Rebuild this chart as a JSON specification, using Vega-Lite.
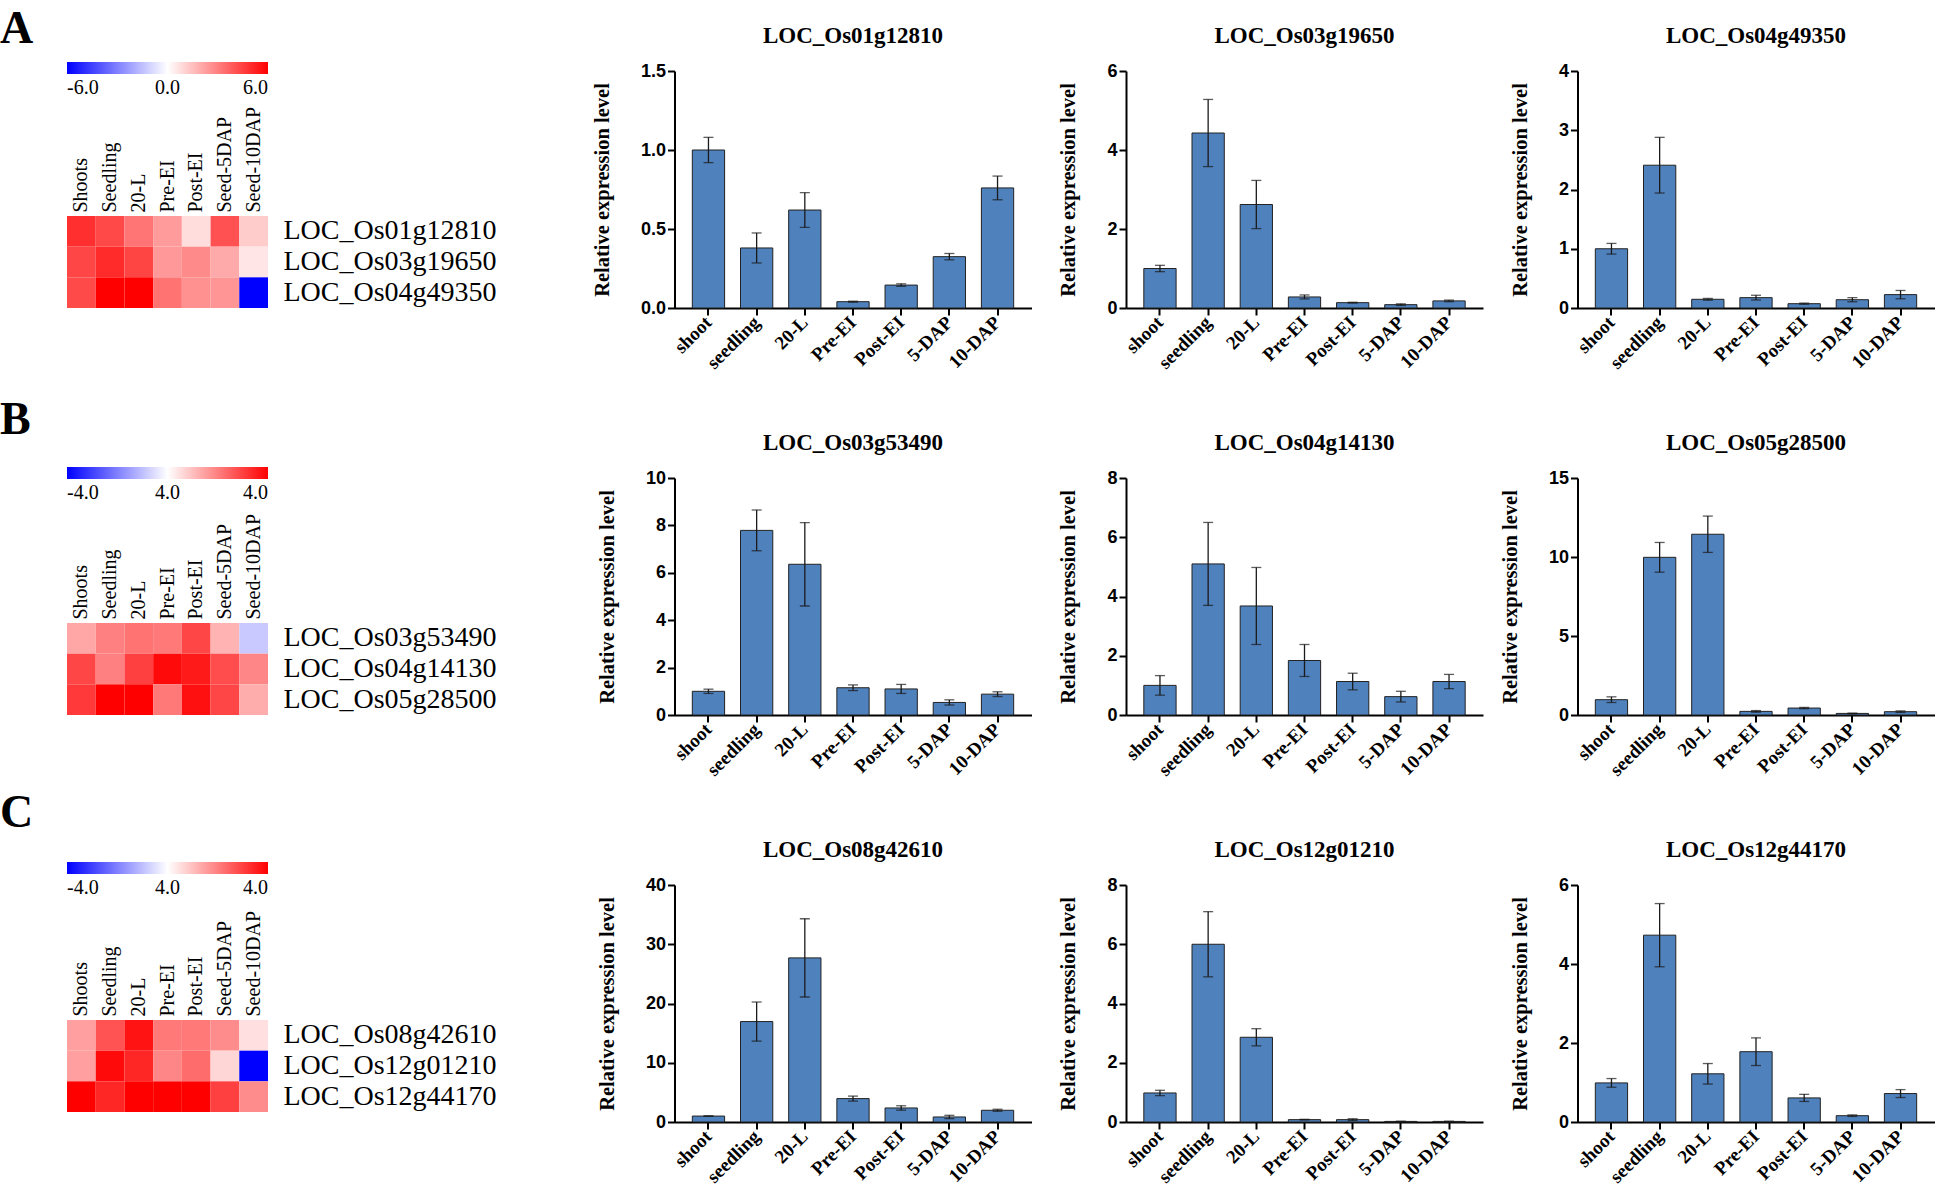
{
"$schema": "https://vega.github.io/schema/vega-lite/v6.json",
"background": "white",
"padding": {"top": 6, "left": 0, "right": 0, "bottom": 0},
"config": {"view": {"stroke": null}, "axis": {"grid": false}},
"datasets": {
"heat": [
{"panel":"A","gene":"LOC_Os01g12810","tissue":"Shoots","value":4.9},
{"panel":"A","gene":"LOC_Os01g12810","tissue":"Seedling","value":4.3},
{"panel":"A","gene":"LOC_Os01g12810","tissue":"20-L","value":3.25},
{"panel":"A","gene":"LOC_Os01g12810","tissue":"Pre-EI","value":2.35},
{"panel":"A","gene":"LOC_Os01g12810","tissue":"Post-EI","value":0.8},
{"panel":"A","gene":"LOC_Os01g12810","tissue":"Seed-5DAP","value":4.1},
{"panel":"A","gene":"LOC_Os01g12810","tissue":"Seed-10DAP","value":1.2},
{"panel":"A","gene":"LOC_Os03g19650","tissue":"Shoots","value":4.35},
{"panel":"A","gene":"LOC_Os03g19650","tissue":"Seedling","value":5.0},
{"panel":"A","gene":"LOC_Os03g19650","tissue":"20-L","value":4.4},
{"panel":"A","gene":"LOC_Os03g19650","tissue":"Pre-EI","value":2.4},
{"panel":"A","gene":"LOC_Os03g19650","tissue":"Post-EI","value":2.75},
{"panel":"A","gene":"LOC_Os03g19650","tissue":"Seed-5DAP","value":2.0},
{"panel":"A","gene":"LOC_Os03g19650","tissue":"Seed-10DAP","value":0.6},
{"panel":"A","gene":"LOC_Os04g49350","tissue":"Shoots","value":4.25},
{"panel":"A","gene":"LOC_Os04g49350","tissue":"Seedling","value":6},
{"panel":"A","gene":"LOC_Os04g49350","tissue":"20-L","value":6},
{"panel":"A","gene":"LOC_Os04g49350","tissue":"Pre-EI","value":3.3},
{"panel":"A","gene":"LOC_Os04g49350","tissue":"Post-EI","value":2.6},
{"panel":"A","gene":"LOC_Os04g49350","tissue":"Seed-5DAP","value":2.5},
{"panel":"A","gene":"LOC_Os04g49350","tissue":"Seed-10DAP","value":-6},
{"panel":"B","gene":"LOC_Os03g53490","tissue":"Shoots","value":1.4},
{"panel":"B","gene":"LOC_Os03g53490","tissue":"Seedling","value":2.0},
{"panel":"B","gene":"LOC_Os03g53490","tissue":"20-L","value":2.2},
{"panel":"B","gene":"LOC_Os03g53490","tissue":"Pre-EI","value":2.1},
{"panel":"B","gene":"LOC_Os03g53490","tissue":"Post-EI","value":2.9},
{"panel":"B","gene":"LOC_Os03g53490","tissue":"Seed-5DAP","value":1.2},
{"panel":"B","gene":"LOC_Os03g53490","tissue":"Seed-10DAP","value":-0.85},
{"panel":"B","gene":"LOC_Os04g14130","tissue":"Shoots","value":2.9},
{"panel":"B","gene":"LOC_Os04g14130","tissue":"Seedling","value":2.0},
{"panel":"B","gene":"LOC_Os04g14130","tissue":"20-L","value":3.0},
{"panel":"B","gene":"LOC_Os04g14130","tissue":"Pre-EI","value":3.85},
{"panel":"B","gene":"LOC_Os04g14130","tissue":"Post-EI","value":3.6},
{"panel":"B","gene":"LOC_Os04g14130","tissue":"Seed-5DAP","value":2.8},
{"panel":"B","gene":"LOC_Os04g14130","tissue":"Seed-10DAP","value":1.9},
{"panel":"B","gene":"LOC_Os05g28500","tissue":"Shoots","value":3.1},
{"panel":"B","gene":"LOC_Os05g28500","tissue":"Seedling","value":4},
{"panel":"B","gene":"LOC_Os05g28500","tissue":"20-L","value":4},
{"panel":"B","gene":"LOC_Os05g28500","tissue":"Pre-EI","value":2.1},
{"panel":"B","gene":"LOC_Os05g28500","tissue":"Post-EI","value":3.75},
{"panel":"B","gene":"LOC_Os05g28500","tissue":"Seed-5DAP","value":2.9},
{"panel":"B","gene":"LOC_Os05g28500","tissue":"Seed-10DAP","value":1.3},
{"panel":"C","gene":"LOC_Os08g42610","tissue":"Shoots","value":1.5},
{"panel":"C","gene":"LOC_Os08g42610","tissue":"Seedling","value":2.7},
{"panel":"C","gene":"LOC_Os08g42610","tissue":"20-L","value":3.7},
{"panel":"C","gene":"LOC_Os08g42610","tissue":"Pre-EI","value":2.1},
{"panel":"C","gene":"LOC_Os08g42610","tissue":"Post-EI","value":2.1},
{"panel":"C","gene":"LOC_Os08g42610","tissue":"Seed-5DAP","value":1.8},
{"panel":"C","gene":"LOC_Os08g42610","tissue":"Seed-10DAP","value":0.5},
{"panel":"C","gene":"LOC_Os12g01210","tissue":"Shoots","value":1.5},
{"panel":"C","gene":"LOC_Os12g01210","tissue":"Seedling","value":3.85},
{"panel":"C","gene":"LOC_Os12g01210","tissue":"20-L","value":3.4},
{"panel":"C","gene":"LOC_Os12g01210","tissue":"Pre-EI","value":1.9},
{"panel":"C","gene":"LOC_Os12g01210","tissue":"Post-EI","value":2.3},
{"panel":"C","gene":"LOC_Os12g01210","tissue":"Seed-5DAP","value":0.65},
{"panel":"C","gene":"LOC_Os12g01210","tissue":"Seed-10DAP","value":-4},
{"panel":"C","gene":"LOC_Os12g44170","tissue":"Shoots","value":4},
{"panel":"C","gene":"LOC_Os12g44170","tissue":"Seedling","value":3.4},
{"panel":"C","gene":"LOC_Os12g44170","tissue":"20-L","value":4},
{"panel":"C","gene":"LOC_Os12g44170","tissue":"Pre-EI","value":4},
{"panel":"C","gene":"LOC_Os12g44170","tissue":"Post-EI","value":4},
{"panel":"C","gene":"LOC_Os12g44170","tissue":"Seed-5DAP","value":3.0},
{"panel":"C","gene":"LOC_Os12g44170","tissue":"Seed-10DAP","value":1.8}
],
"expr": [
{"gene":"LOC_Os01g12810","stage":"shoot","mean":1.0,"err":0.08},
{"gene":"LOC_Os01g12810","stage":"seedling","mean":0.38,"err":0.095},
{"gene":"LOC_Os01g12810","stage":"20-L","mean":0.62,"err":0.11},
{"gene":"LOC_Os01g12810","stage":"Pre-EI","mean":0.04,"err":0.003},
{"gene":"LOC_Os01g12810","stage":"Post-EI","mean":0.145,"err":0.008},
{"gene":"LOC_Os01g12810","stage":"5-DAP","mean":0.325,"err":0.02},
{"gene":"LOC_Os01g12810","stage":"10-DAP","mean":0.76,"err":0.075},
{"gene":"LOC_Os03g19650","stage":"shoot","mean":1.0,"err":0.08},
{"gene":"LOC_Os03g19650","stage":"seedling","mean":4.43,"err":0.85},
{"gene":"LOC_Os03g19650","stage":"20-L","mean":2.62,"err":0.61},
{"gene":"LOC_Os03g19650","stage":"Pre-EI","mean":0.28,"err":0.05},
{"gene":"LOC_Os03g19650","stage":"Post-EI","mean":0.135,"err":0.01},
{"gene":"LOC_Os03g19650","stage":"5-DAP","mean":0.085,"err":0.02},
{"gene":"LOC_Os03g19650","stage":"10-DAP","mean":0.18,"err":0.02},
{"gene":"LOC_Os04g49350","stage":"shoot","mean":1.0,"err":0.09},
{"gene":"LOC_Os04g49350","stage":"seedling","mean":2.41,"err":0.47},
{"gene":"LOC_Os04g49350","stage":"20-L","mean":0.147,"err":0.015},
{"gene":"LOC_Os04g49350","stage":"Pre-EI","mean":0.175,"err":0.04},
{"gene":"LOC_Os04g49350","stage":"Post-EI","mean":0.073,"err":0.01},
{"gene":"LOC_Os04g49350","stage":"5-DAP","mean":0.14,"err":0.035},
{"gene":"LOC_Os04g49350","stage":"10-DAP","mean":0.226,"err":0.07},
{"gene":"LOC_Os03g53490","stage":"shoot","mean":1.0,"err":0.09},
{"gene":"LOC_Os03g53490","stage":"seedling","mean":7.79,"err":0.86},
{"gene":"LOC_Os03g53490","stage":"20-L","mean":6.36,"err":1.76},
{"gene":"LOC_Os03g53490","stage":"Pre-EI","mean":1.15,"err":0.12},
{"gene":"LOC_Os03g53490","stage":"Post-EI","mean":1.1,"err":0.19},
{"gene":"LOC_Os03g53490","stage":"5-DAP","mean":0.53,"err":0.11},
{"gene":"LOC_Os03g53490","stage":"10-DAP","mean":0.88,"err":0.1},
{"gene":"LOC_Os04g14130","stage":"shoot","mean":1.0,"err":0.33},
{"gene":"LOC_Os04g14130","stage":"seedling","mean":5.1,"err":1.4},
{"gene":"LOC_Os04g14130","stage":"20-L","mean":3.68,"err":1.3},
{"gene":"LOC_Os04g14130","stage":"Pre-EI","mean":1.84,"err":0.54},
{"gene":"LOC_Os04g14130","stage":"Post-EI","mean":1.13,"err":0.28},
{"gene":"LOC_Os04g14130","stage":"5-DAP","mean":0.62,"err":0.18},
{"gene":"LOC_Os04g14130","stage":"10-DAP","mean":1.13,"err":0.24},
{"gene":"LOC_Os05g28500","stage":"shoot","mean":0.97,"err":0.18},
{"gene":"LOC_Os05g28500","stage":"seedling","mean":9.98,"err":0.94},
{"gene":"LOC_Os05g28500","stage":"20-L","mean":11.44,"err":1.15},
{"gene":"LOC_Os05g28500","stage":"Pre-EI","mean":0.23,"err":0.05},
{"gene":"LOC_Os05g28500","stage":"Post-EI","mean":0.44,"err":0.04},
{"gene":"LOC_Os05g28500","stage":"5-DAP","mean":0.1,"err":0.02},
{"gene":"LOC_Os05g28500","stage":"10-DAP","mean":0.21,"err":0.05},
{"gene":"LOC_Os08g42610","stage":"shoot","mean":1.0,"err":0.05},
{"gene":"LOC_Os08g42610","stage":"seedling","mean":16.95,"err":3.3},
{"gene":"LOC_Os08g42610","stage":"20-L","mean":27.7,"err":6.6},
{"gene":"LOC_Os08g42610","stage":"Pre-EI","mean":3.95,"err":0.42},
{"gene":"LOC_Os08g42610","stage":"Post-EI","mean":2.37,"err":0.37},
{"gene":"LOC_Os08g42610","stage":"5-DAP","mean":0.85,"err":0.28},
{"gene":"LOC_Os08g42610","stage":"10-DAP","mean":1.98,"err":0.17},
{"gene":"LOC_Os12g01210","stage":"shoot","mean":0.98,"err":0.09},
{"gene":"LOC_Os12g01210","stage":"seedling","mean":6.0,"err":1.1},
{"gene":"LOC_Os12g01210","stage":"20-L","mean":2.86,"err":0.29},
{"gene":"LOC_Os12g01210","stage":"Pre-EI","mean":0.08,"err":0.01},
{"gene":"LOC_Os12g01210","stage":"Post-EI","mean":0.08,"err":0.03},
{"gene":"LOC_Os12g01210","stage":"5-DAP","mean":0.02,"err":0.005},
{"gene":"LOC_Os12g01210","stage":"10-DAP","mean":0.02,"err":0.005},
{"gene":"LOC_Os12g44170","stage":"shoot","mean":0.99,"err":0.11},
{"gene":"LOC_Os12g44170","stage":"seedling","mean":4.73,"err":0.8},
{"gene":"LOC_Os12g44170","stage":"20-L","mean":1.22,"err":0.26},
{"gene":"LOC_Os12g44170","stage":"Pre-EI","mean":1.78,"err":0.35},
{"gene":"LOC_Os12g44170","stage":"Post-EI","mean":0.61,"err":0.09},
{"gene":"LOC_Os12g44170","stage":"5-DAP","mean":0.16,"err":0.02},
{"gene":"LOC_Os12g44170","stage":"10-DAP","mean":0.72,"err":0.1}
]
},
"columns": 4,
"spacing": {"row": 170, "column": 94.5},
"bounds": "flush",
"align": "each",
"resolve": {"scale": {"color": "independent", "x": "independent", "y": "independent"}, "legend": {"color": "independent"}, "axis": {"x": "independent", "y": "independent"}},
"concat": [
{
 "width": 512.5, "height": 237,
 "title": {"text": "A", "anchor": "start", "frame": "group", "dx": -67, "offset": -27, "baseline": "alphabetic", "font": "Liberation Serif", "fontSize": 46, "fontWeight": "bold", "color": "black"},
 "data": {"name": "heat"},
 "transform": [{"filter": "datum.panel == 'A'"}],
 "mark": {"type": "rect"},
 "encoding": {
  "x": {"field": "tissue", "type": "nominal", "sort": ["Shoots","Seedling","20-L","Pre-EI","Post-EI","Seed-5DAP","Seed-10DAP"], "scale": {"range": [0, 201], "paddingInner": 0, "paddingOuter": 0}, "axis": {"orient": "top", "offset": -145, "title": null, "labelAngle": -90, "labelAlign": "left", "labelBaseline": "middle", "domain": false, "ticks": false, "labelPadding": 4, "labelFont": "Liberation Serif", "labelFontSize": 20, "labelColor": "black"}},
  "y": {"field": "gene", "type": "nominal", "sort": ["LOC_Os01g12810","LOC_Os03g19650","LOC_Os04g49350"], "scale": {"range": [145, 237], "paddingInner": 0, "paddingOuter": 0}, "axis": {"orient": "right", "offset": -311.5, "title": null, "domain": false, "ticks": false, "labelPadding": 15, "labelLimit": 0, "labelFont": "Liberation Serif", "labelFontSize": 28, "labelColor": "black"}},
  "color": {"field": "value", "type": "quantitative", "scale": {"domain": [-6, 0, 6], "range": ["#0000ff", "#ffffff", "#ff0000"], "interpolate": "rgb"}, "legend": {"orient": "none", "legendX": 0, "legendY": -9, "direction": "horizontal", "gradientLength": 201, "gradientThickness": 12, "gradientStrokeWidth": 0, "values": [-6, 0, 6], "labelExpr": "datum.value < 0 ? '-' + format(-datum.value, '.1f') : format(datum.value, '.1f')", "title": null, "labelFont": "Liberation Serif", "labelFontSize": 20, "labelColor": "black", "labelOffset": 4}}
 }
},
{
 "width": 357, "height": 237,
 "title": {"text": "LOC_Os01g12810", "anchor": "middle", "frame": "group", "offset": -4, "baseline": "alphabetic", "font": "Liberation Serif", "fontSize": 23, "fontWeight": "bold", "color": "black"},
 "data": {"name": "expr"},
 "transform": [{"filter": "datum.gene == 'LOC_Os01g12810'"}],
 "encoding": {
  "x": {"field": "stage", "type": "nominal", "sort": ["shoot","seedling","20-L","Pre-EI","Post-EI","5-DAP","10-DAP"], "scale": {"paddingInner": 0.33, "paddingOuter": 0.37}, "axis": {"title": null, "labelAngle": -45, "labelAlign": "right", "labelBaseline": "middle", "labelFont": "Liberation Serif", "labelFontSize": 19, "labelFontWeight": "bold", "labelColor": "black", "labelPadding": 4, "domainColor": "black", "domainWidth": 2, "tickColor": "black", "tickWidth": 2, "tickSize": 7}},
  "y": {"field": "mean", "type": "quantitative", "scale": {"domain": [0, 1.5], "nice": false}, "axis": {"title": "Relative expression level", "titleFont": "Liberation Serif", "titleFontSize": 20.5, "titleFontWeight": "bold", "titleColor": "black", "titlePadding": 28, "values": [0, 0.5, 1, 1.5], "format": ".1f", "labelFont": "Liberation Sans", "labelFontSize": 18, "labelFontWeight": "bold", "labelColor": "black", "labelPadding": 2, "labelFlush": false, "domainColor": "black", "domainWidth": 2, "tickColor": "black", "tickWidth": 2, "tickSize": 7}}
 },
 "layer": [
  {"mark": {"type": "bar", "fill": "#4f81bd", "stroke": "#222222", "strokeWidth": 1}},
  {"mark": {"type": "errorbar", "color": "#1a1a1a", "size": 10, "thickness": 1.3, "ticks": true}, "encoding": {"yError": {"field": "err"}}}
 ]
},
{
 "width": 357, "height": 237,
 "title": {"text": "LOC_Os03g19650", "anchor": "middle", "frame": "group", "offset": -4, "baseline": "alphabetic", "font": "Liberation Serif", "fontSize": 23, "fontWeight": "bold", "color": "black"},
 "data": {"name": "expr"},
 "transform": [{"filter": "datum.gene == 'LOC_Os03g19650'"}],
 "encoding": {
  "x": {"field": "stage", "type": "nominal", "sort": ["shoot","seedling","20-L","Pre-EI","Post-EI","5-DAP","10-DAP"], "scale": {"paddingInner": 0.33, "paddingOuter": 0.37}, "axis": {"title": null, "labelAngle": -45, "labelAlign": "right", "labelBaseline": "middle", "labelFont": "Liberation Serif", "labelFontSize": 19, "labelFontWeight": "bold", "labelColor": "black", "labelPadding": 4, "domainColor": "black", "domainWidth": 2, "tickColor": "black", "tickWidth": 2, "tickSize": 7}},
  "y": {"field": "mean", "type": "quantitative", "scale": {"domain": [0, 6], "nice": false}, "axis": {"title": "Relative expression level", "titleFont": "Liberation Serif", "titleFontSize": 20.5, "titleFontWeight": "bold", "titleColor": "black", "titlePadding": 28, "values": [0, 2, 4, 6], "format": "d", "labelFont": "Liberation Sans", "labelFontSize": 18, "labelFontWeight": "bold", "labelColor": "black", "labelPadding": 2, "labelFlush": false, "domainColor": "black", "domainWidth": 2, "tickColor": "black", "tickWidth": 2, "tickSize": 7}}
 },
 "layer": [
  {"mark": {"type": "bar", "fill": "#4f81bd", "stroke": "#222222", "strokeWidth": 1}},
  {"mark": {"type": "errorbar", "color": "#1a1a1a", "size": 10, "thickness": 1.3, "ticks": true}, "encoding": {"yError": {"field": "err"}}}
 ]
},
{
 "width": 357, "height": 237,
 "title": {"text": "LOC_Os04g49350", "anchor": "middle", "frame": "group", "offset": -4, "baseline": "alphabetic", "font": "Liberation Serif", "fontSize": 23, "fontWeight": "bold", "color": "black"},
 "data": {"name": "expr"},
 "transform": [{"filter": "datum.gene == 'LOC_Os04g49350'"}],
 "encoding": {
  "x": {"field": "stage", "type": "nominal", "sort": ["shoot","seedling","20-L","Pre-EI","Post-EI","5-DAP","10-DAP"], "scale": {"paddingInner": 0.33, "paddingOuter": 0.37}, "axis": {"title": null, "labelAngle": -45, "labelAlign": "right", "labelBaseline": "middle", "labelFont": "Liberation Serif", "labelFontSize": 19, "labelFontWeight": "bold", "labelColor": "black", "labelPadding": 4, "domainColor": "black", "domainWidth": 2, "tickColor": "black", "tickWidth": 2, "tickSize": 7}},
  "y": {"field": "mean", "type": "quantitative", "scale": {"domain": [0, 4], "nice": false}, "axis": {"title": "Relative expression level", "titleFont": "Liberation Serif", "titleFontSize": 20.5, "titleFontWeight": "bold", "titleColor": "black", "titlePadding": 28, "values": [0, 1, 2, 3, 4], "format": "d", "labelFont": "Liberation Sans", "labelFontSize": 18, "labelFontWeight": "bold", "labelColor": "black", "labelPadding": 2, "labelFlush": false, "domainColor": "black", "domainWidth": 2, "tickColor": "black", "tickWidth": 2, "tickSize": 7}}
 },
 "layer": [
  {"mark": {"type": "bar", "fill": "#4f81bd", "stroke": "#222222", "strokeWidth": 1}},
  {"mark": {"type": "errorbar", "color": "#1a1a1a", "size": 10, "thickness": 1.3, "ticks": true}, "encoding": {"yError": {"field": "err"}}}
 ]
},
{
 "width": 512.5, "height": 237,
 "title": {"text": "B", "anchor": "start", "frame": "group", "dx": -67, "offset": -13, "baseline": "alphabetic", "font": "Liberation Serif", "fontSize": 46, "fontWeight": "bold", "color": "black"},
 "data": {"name": "heat"},
 "transform": [{"filter": "datum.panel == 'B'"}],
 "mark": {"type": "rect"},
 "encoding": {
  "x": {"field": "tissue", "type": "nominal", "sort": ["Shoots","Seedling","20-L","Pre-EI","Post-EI","Seed-5DAP","Seed-10DAP"], "scale": {"range": [0, 201], "paddingInner": 0, "paddingOuter": 0}, "axis": {"orient": "top", "offset": -145, "title": null, "labelAngle": -90, "labelAlign": "left", "labelBaseline": "middle", "domain": false, "ticks": false, "labelPadding": 4, "labelFont": "Liberation Serif", "labelFontSize": 20, "labelColor": "black"}},
  "y": {"field": "gene", "type": "nominal", "sort": ["LOC_Os03g53490","LOC_Os04g14130","LOC_Os05g28500"], "scale": {"range": [145, 237], "paddingInner": 0, "paddingOuter": 0}, "axis": {"orient": "right", "offset": -311.5, "title": null, "domain": false, "ticks": false, "labelPadding": 15, "labelLimit": 0, "labelFont": "Liberation Serif", "labelFontSize": 28, "labelColor": "black"}},
  "color": {"field": "value", "type": "quantitative", "scale": {"domain": [-4, 0, 4], "range": ["#0000ff", "#ffffff", "#ff0000"], "interpolate": "rgb"}, "legend": {"orient": "none", "legendX": 0, "legendY": -11, "direction": "horizontal", "gradientLength": 201, "gradientThickness": 12, "gradientStrokeWidth": 0, "values": [-4, 0, 4], "labelExpr": "datum.value == 0 ? '4.0' : datum.value < 0 ? '-' + format(-datum.value, '.1f') : format(datum.value, '.1f')", "title": null, "labelFont": "Liberation Serif", "labelFontSize": 20, "labelColor": "black", "labelOffset": 4}}
 }
},
{
 "width": 357, "height": 237,
 "title": {"text": "LOC_Os03g53490", "anchor": "middle", "frame": "group", "offset": -4, "baseline": "alphabetic", "font": "Liberation Serif", "fontSize": 23, "fontWeight": "bold", "color": "black"},
 "data": {"name": "expr"},
 "transform": [{"filter": "datum.gene == 'LOC_Os03g53490'"}],
 "encoding": {
  "x": {"field": "stage", "type": "nominal", "sort": ["shoot","seedling","20-L","Pre-EI","Post-EI","5-DAP","10-DAP"], "scale": {"paddingInner": 0.33, "paddingOuter": 0.37}, "axis": {"title": null, "labelAngle": -45, "labelAlign": "right", "labelBaseline": "middle", "labelFont": "Liberation Serif", "labelFontSize": 19, "labelFontWeight": "bold", "labelColor": "black", "labelPadding": 4, "domainColor": "black", "domainWidth": 2, "tickColor": "black", "tickWidth": 2, "tickSize": 7}},
  "y": {"field": "mean", "type": "quantitative", "scale": {"domain": [0, 10], "nice": false}, "axis": {"title": "Relative expression level", "titleFont": "Liberation Serif", "titleFontSize": 20.5, "titleFontWeight": "bold", "titleColor": "black", "titlePadding": 28, "values": [0, 2, 4, 6, 8, 10], "format": "d", "labelFont": "Liberation Sans", "labelFontSize": 18, "labelFontWeight": "bold", "labelColor": "black", "labelPadding": 2, "labelFlush": false, "domainColor": "black", "domainWidth": 2, "tickColor": "black", "tickWidth": 2, "tickSize": 7}}
 },
 "layer": [
  {"mark": {"type": "bar", "fill": "#4f81bd", "stroke": "#222222", "strokeWidth": 1}},
  {"mark": {"type": "errorbar", "color": "#1a1a1a", "size": 10, "thickness": 1.3, "ticks": true}, "encoding": {"yError": {"field": "err"}}}
 ]
},
{
 "width": 357, "height": 237,
 "title": {"text": "LOC_Os04g14130", "anchor": "middle", "frame": "group", "offset": -4, "baseline": "alphabetic", "font": "Liberation Serif", "fontSize": 23, "fontWeight": "bold", "color": "black"},
 "data": {"name": "expr"},
 "transform": [{"filter": "datum.gene == 'LOC_Os04g14130'"}],
 "encoding": {
  "x": {"field": "stage", "type": "nominal", "sort": ["shoot","seedling","20-L","Pre-EI","Post-EI","5-DAP","10-DAP"], "scale": {"paddingInner": 0.33, "paddingOuter": 0.37}, "axis": {"title": null, "labelAngle": -45, "labelAlign": "right", "labelBaseline": "middle", "labelFont": "Liberation Serif", "labelFontSize": 19, "labelFontWeight": "bold", "labelColor": "black", "labelPadding": 4, "domainColor": "black", "domainWidth": 2, "tickColor": "black", "tickWidth": 2, "tickSize": 7}},
  "y": {"field": "mean", "type": "quantitative", "scale": {"domain": [0, 8], "nice": false}, "axis": {"title": "Relative expression level", "titleFont": "Liberation Serif", "titleFontSize": 20.5, "titleFontWeight": "bold", "titleColor": "black", "titlePadding": 28, "values": [0, 2, 4, 6, 8], "format": "d", "labelFont": "Liberation Sans", "labelFontSize": 18, "labelFontWeight": "bold", "labelColor": "black", "labelPadding": 2, "labelFlush": false, "domainColor": "black", "domainWidth": 2, "tickColor": "black", "tickWidth": 2, "tickSize": 7}}
 },
 "layer": [
  {"mark": {"type": "bar", "fill": "#4f81bd", "stroke": "#222222", "strokeWidth": 1}},
  {"mark": {"type": "errorbar", "color": "#1a1a1a", "size": 10, "thickness": 1.3, "ticks": true}, "encoding": {"yError": {"field": "err"}}}
 ]
},
{
 "width": 357, "height": 237,
 "title": {"text": "LOC_Os05g28500", "anchor": "middle", "frame": "group", "offset": -4, "baseline": "alphabetic", "font": "Liberation Serif", "fontSize": 23, "fontWeight": "bold", "color": "black"},
 "data": {"name": "expr"},
 "transform": [{"filter": "datum.gene == 'LOC_Os05g28500'"}],
 "encoding": {
  "x": {"field": "stage", "type": "nominal", "sort": ["shoot","seedling","20-L","Pre-EI","Post-EI","5-DAP","10-DAP"], "scale": {"paddingInner": 0.33, "paddingOuter": 0.37}, "axis": {"title": null, "labelAngle": -45, "labelAlign": "right", "labelBaseline": "middle", "labelFont": "Liberation Serif", "labelFontSize": 19, "labelFontWeight": "bold", "labelColor": "black", "labelPadding": 4, "domainColor": "black", "domainWidth": 2, "tickColor": "black", "tickWidth": 2, "tickSize": 7}},
  "y": {"field": "mean", "type": "quantitative", "scale": {"domain": [0, 15], "nice": false}, "axis": {"title": "Relative expression level", "titleFont": "Liberation Serif", "titleFontSize": 20.5, "titleFontWeight": "bold", "titleColor": "black", "titlePadding": 28, "values": [0, 5, 10, 15], "format": "d", "labelFont": "Liberation Sans", "labelFontSize": 18, "labelFontWeight": "bold", "labelColor": "black", "labelPadding": 2, "labelFlush": false, "domainColor": "black", "domainWidth": 2, "tickColor": "black", "tickWidth": 2, "tickSize": 7}}
 },
 "layer": [
  {"mark": {"type": "bar", "fill": "#4f81bd", "stroke": "#222222", "strokeWidth": 1}},
  {"mark": {"type": "errorbar", "color": "#1a1a1a", "size": 10, "thickness": 1.3, "ticks": true}, "encoding": {"yError": {"field": "err"}}}
 ]
},
{
 "width": 512.5, "height": 237,
 "title": {"text": "C", "anchor": "start", "frame": "group", "dx": -67, "offset": -11, "baseline": "alphabetic", "font": "Liberation Serif", "fontSize": 46, "fontWeight": "bold", "color": "black"},
 "data": {"name": "heat"},
 "transform": [{"filter": "datum.panel == 'C'"}],
 "mark": {"type": "rect"},
 "encoding": {
  "x": {"field": "tissue", "type": "nominal", "sort": ["Shoots","Seedling","20-L","Pre-EI","Post-EI","Seed-5DAP","Seed-10DAP"], "scale": {"range": [0, 201], "paddingInner": 0, "paddingOuter": 0}, "axis": {"orient": "top", "offset": -135, "title": null, "labelAngle": -90, "labelAlign": "left", "labelBaseline": "middle", "domain": false, "ticks": false, "labelPadding": 4, "labelFont": "Liberation Serif", "labelFontSize": 20, "labelColor": "black"}},
  "y": {"field": "gene", "type": "nominal", "sort": ["LOC_Os08g42610","LOC_Os12g01210","LOC_Os12g44170"], "scale": {"range": [135, 227], "paddingInner": 0, "paddingOuter": 0}, "axis": {"orient": "right", "offset": -311.5, "title": null, "domain": false, "ticks": false, "labelPadding": 15, "labelLimit": 0, "labelFont": "Liberation Serif", "labelFontSize": 28, "labelColor": "black"}},
  "color": {"field": "value", "type": "quantitative", "scale": {"domain": [-4, 0, 4], "range": ["#0000ff", "#ffffff", "#ff0000"], "interpolate": "rgb"}, "legend": {"orient": "none", "legendX": 0, "legendY": -23, "direction": "horizontal", "gradientLength": 201, "gradientThickness": 12, "gradientStrokeWidth": 0, "values": [-4, 0, 4], "labelExpr": "datum.value == 0 ? '4.0' : datum.value < 0 ? '-' + format(-datum.value, '.1f') : format(datum.value, '.1f')", "title": null, "labelFont": "Liberation Serif", "labelFontSize": 20, "labelColor": "black", "labelOffset": 4}}
 }
},
{
 "width": 357, "height": 237,
 "title": {"text": "LOC_Os08g42610", "anchor": "middle", "frame": "group", "offset": -4, "baseline": "alphabetic", "font": "Liberation Serif", "fontSize": 23, "fontWeight": "bold", "color": "black"},
 "data": {"name": "expr"},
 "transform": [{"filter": "datum.gene == 'LOC_Os08g42610'"}],
 "encoding": {
  "x": {"field": "stage", "type": "nominal", "sort": ["shoot","seedling","20-L","Pre-EI","Post-EI","5-DAP","10-DAP"], "scale": {"paddingInner": 0.33, "paddingOuter": 0.37}, "axis": {"title": null, "labelAngle": -45, "labelAlign": "right", "labelBaseline": "middle", "labelFont": "Liberation Serif", "labelFontSize": 19, "labelFontWeight": "bold", "labelColor": "black", "labelPadding": 4, "domainColor": "black", "domainWidth": 2, "tickColor": "black", "tickWidth": 2, "tickSize": 7}},
  "y": {"field": "mean", "type": "quantitative", "scale": {"domain": [0, 40], "nice": false}, "axis": {"title": "Relative expression level", "titleFont": "Liberation Serif", "titleFontSize": 20.5, "titleFontWeight": "bold", "titleColor": "black", "titlePadding": 28, "values": [0, 10, 20, 30, 40], "format": "d", "labelFont": "Liberation Sans", "labelFontSize": 18, "labelFontWeight": "bold", "labelColor": "black", "labelPadding": 2, "labelFlush": false, "domainColor": "black", "domainWidth": 2, "tickColor": "black", "tickWidth": 2, "tickSize": 7}}
 },
 "layer": [
  {"mark": {"type": "bar", "fill": "#4f81bd", "stroke": "#222222", "strokeWidth": 1}},
  {"mark": {"type": "errorbar", "color": "#1a1a1a", "size": 10, "thickness": 1.3, "ticks": true}, "encoding": {"yError": {"field": "err"}}}
 ]
},
{
 "width": 357, "height": 237,
 "title": {"text": "LOC_Os12g01210", "anchor": "middle", "frame": "group", "offset": -4, "baseline": "alphabetic", "font": "Liberation Serif", "fontSize": 23, "fontWeight": "bold", "color": "black"},
 "data": {"name": "expr"},
 "transform": [{"filter": "datum.gene == 'LOC_Os12g01210'"}],
 "encoding": {
  "x": {"field": "stage", "type": "nominal", "sort": ["shoot","seedling","20-L","Pre-EI","Post-EI","5-DAP","10-DAP"], "scale": {"paddingInner": 0.33, "paddingOuter": 0.37}, "axis": {"title": null, "labelAngle": -45, "labelAlign": "right", "labelBaseline": "middle", "labelFont": "Liberation Serif", "labelFontSize": 19, "labelFontWeight": "bold", "labelColor": "black", "labelPadding": 4, "domainColor": "black", "domainWidth": 2, "tickColor": "black", "tickWidth": 2, "tickSize": 7}},
  "y": {"field": "mean", "type": "quantitative", "scale": {"domain": [0, 8], "nice": false}, "axis": {"title": "Relative expression level", "titleFont": "Liberation Serif", "titleFontSize": 20.5, "titleFontWeight": "bold", "titleColor": "black", "titlePadding": 28, "values": [0, 2, 4, 6, 8], "format": "d", "labelFont": "Liberation Sans", "labelFontSize": 18, "labelFontWeight": "bold", "labelColor": "black", "labelPadding": 2, "labelFlush": false, "domainColor": "black", "domainWidth": 2, "tickColor": "black", "tickWidth": 2, "tickSize": 7}}
 },
 "layer": [
  {"mark": {"type": "bar", "fill": "#4f81bd", "stroke": "#222222", "strokeWidth": 1}},
  {"mark": {"type": "errorbar", "color": "#1a1a1a", "size": 10, "thickness": 1.3, "ticks": true}, "encoding": {"yError": {"field": "err"}}}
 ]
},
{
 "width": 357, "height": 237,
 "title": {"text": "LOC_Os12g44170", "anchor": "middle", "frame": "group", "offset": -4, "baseline": "alphabetic", "font": "Liberation Serif", "fontSize": 23, "fontWeight": "bold", "color": "black"},
 "data": {"name": "expr"},
 "transform": [{"filter": "datum.gene == 'LOC_Os12g44170'"}],
 "encoding": {
  "x": {"field": "stage", "type": "nominal", "sort": ["shoot","seedling","20-L","Pre-EI","Post-EI","5-DAP","10-DAP"], "scale": {"paddingInner": 0.33, "paddingOuter": 0.37}, "axis": {"title": null, "labelAngle": -45, "labelAlign": "right", "labelBaseline": "middle", "labelFont": "Liberation Serif", "labelFontSize": 19, "labelFontWeight": "bold", "labelColor": "black", "labelPadding": 4, "domainColor": "black", "domainWidth": 2, "tickColor": "black", "tickWidth": 2, "tickSize": 7}},
  "y": {"field": "mean", "type": "quantitative", "scale": {"domain": [0, 6], "nice": false}, "axis": {"title": "Relative expression level", "titleFont": "Liberation Serif", "titleFontSize": 20.5, "titleFontWeight": "bold", "titleColor": "black", "titlePadding": 28, "values": [0, 2, 4, 6], "format": "d", "labelFont": "Liberation Sans", "labelFontSize": 18, "labelFontWeight": "bold", "labelColor": "black", "labelPadding": 2, "labelFlush": false, "domainColor": "black", "domainWidth": 2, "tickColor": "black", "tickWidth": 2, "tickSize": 7}}
 },
 "layer": [
  {"mark": {"type": "bar", "fill": "#4f81bd", "stroke": "#222222", "strokeWidth": 1}},
  {"mark": {"type": "errorbar", "color": "#1a1a1a", "size": 10, "thickness": 1.3, "ticks": true}, "encoding": {"yError": {"field": "err"}}}
 ]
}
]
}
